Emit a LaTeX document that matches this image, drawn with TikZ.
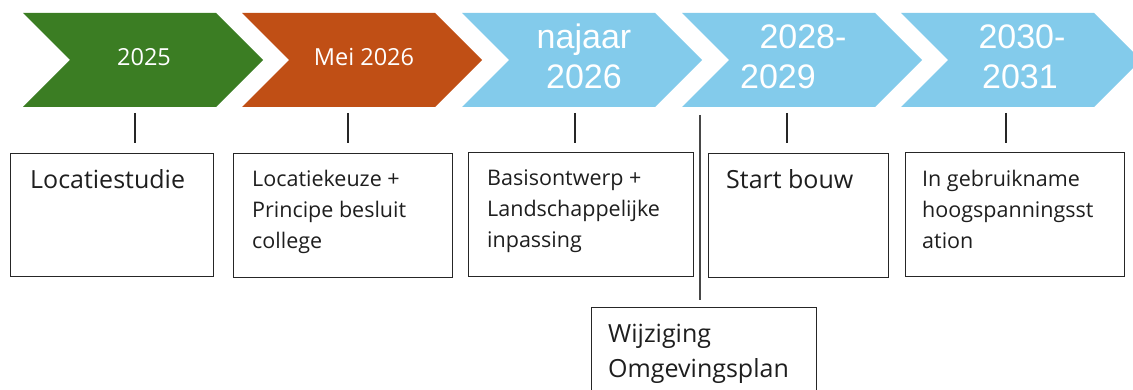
\documentclass[tikz,border=0pt]{standalone}
\usepackage{fontspec}
\setmainfont{Open Sans}
\newfontfamily\arialf{Liberation Sans}
\definecolor{cgreen}{HTML}{3B7D23}
\definecolor{corange}{HTML}{C04F15}
\definecolor{cblue}{HTML}{83CBEB}
\definecolor{cline}{HTML}{262626}
\definecolor{ctxt}{HTML}{1E1E1E}
\newcommand\mychevron[2]{\fill[#2] (#1,13) -- ++(193,0) -- ++(47,47) -- ++(-47,47) -- ++(-193,0) -- ++(47,-47) -- cycle;}
\tikzset{
  whitetxt/.style={text=white, inner sep=0pt, font=\fontsize{23.5}{26}\selectfont},
  bluetxt/.style={text=white, inner sep=0pt, anchor=base, font=\arialf\fontsize{34}{40}\selectfont},
  boxnode/.style={draw=cline, line width=1.4pt, anchor=north west, inner sep=0pt},
  bigtxt/.style={text=ctxt, inner sep=0pt, anchor=north west, align=left, font=\fontsize{25}{35}\selectfont},
  smalltxt/.style={text=ctxt, inner sep=0pt, anchor=north west, align=left, font=\fontsize{21.5}{31}\selectfont},
  tickline/.style={draw=cline, line width=1.3pt},
  longline/.style={draw=cline!85, line width=1.8pt}
}
\begin{document}
\begin{tikzpicture}[x=1pt,y=-1pt]
\useasboundingbox (0,0) rectangle (1133,390);
% chevrons
\mychevron{23}{cgreen}
\mychevron{242}{corange}
\mychevron{462}{cblue}
\mychevron{682}{cblue}
\mychevron{901}{cblue}
% chevron labels
\node[whitetxt] (c1) at (144,57) {2025};
\node[whitetxt] (c2) at (364,57) {Mei 2026};
\node[bluetxt] (c3a) at (584,49) {najaar};
\node[bluetxt] (c3b) at (584,89) {2026};
\node[bluetxt] (c4a) at (803,49) {2028-};
\node[bluetxt] (c4b) at (778,89) {2029};
\node[bluetxt] (c5a) at (1022,49) {2030-};
\node[bluetxt] (c5b) at (1020,89) {2031};
% boxes
\node[boxnode, minimum width=203pt, minimum height=123pt] (b1) at (10,153) {};
\node[boxnode, minimum width=219pt, minimum height=124pt] (b2) at (233,153) {};
\node[boxnode, minimum width=225pt, minimum height=124pt] (b3) at (468,152) {};
\node[boxnode, minimum width=180pt, minimum height=124pt] (b4) at (708,153) {};
\node[boxnode, minimum width=219pt, minimum height=124pt] (b5) at (905,152) {};
\node[boxnode, minimum width=225pt, minimum height=110pt] (b6) at (591,307) {};
% box texts
\node[bigtxt] (x1) at (30,169.5) {Locatiestudie};
\node[smalltxt] (x2) at (252,169.5) {Locatiekeuze +\\Principe besluit\\college};
\node[smalltxt] (x3) at (487,169.5) {Basisontwerp +\\Landschappelijke\\inpassing};
\node[bigtxt] (x4) at (726,169.5) {Start bouw};
\node[smalltxt] (x5) at (922,169.5) {In gebruikname\\hoogspanningsst\\ation};
\node[bigtxt] (x6) at (608,323.5) {Wijziging\\Omgevingsplan};
% ticks
\coordinate (k1a) at (135,113); \coordinate (k1b) at (135,143);
\coordinate (k2a) at (348,113); \coordinate (k2b) at (348,143);
\coordinate (k3a) at (575,113); \coordinate (k3b) at (575,143);
\coordinate (k4a) at (787,113); \coordinate (k4b) at (787,143);
\coordinate (k5a) at (1006,113); \coordinate (k5b) at (1006,143);
\draw[tickline] (k1a) -- (k1b);
\draw[tickline] (k2a) -- (k2b);
\draw[tickline] (k3a) -- (k3b);
\draw[tickline] (k4a) -- (k4b);
\draw[tickline] (k5a) -- (k5b);
% long line
\coordinate (l1a) at (700,115); \coordinate (l1b) at (700,300);
\draw[longline] (l1a) -- (l1b);
\end{tikzpicture}
\end{document}
